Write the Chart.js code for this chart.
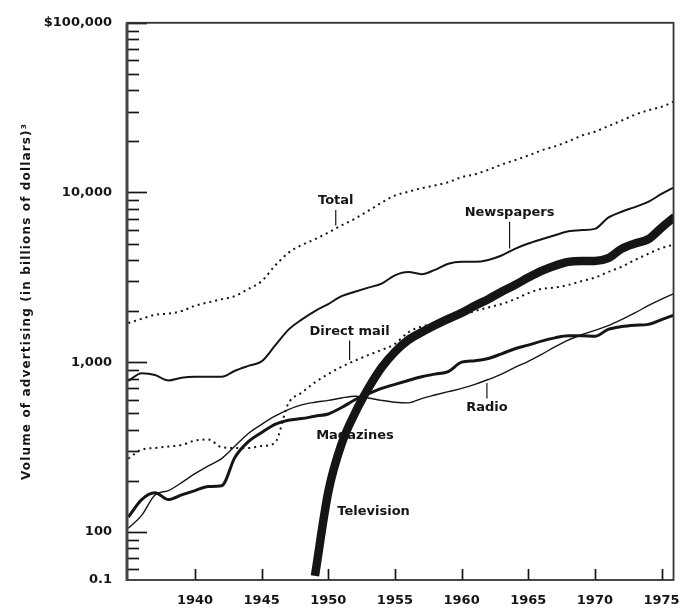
<!DOCTYPE html>
<html>
<head>
<meta charset="utf-8">
<script src="https://cdn.jsdelivr.net/npm/chart.js@4"></script>
<style>
  html, body { margin: 0; padding: 0; background: #fff; }
  #wrap { width: 693px; height: 609px; position: relative; }
</style>
</head>
<body>
<div id="wrap"><canvas id="adChart"></canvas></div>
<script>
// years on the x axis, one value per year (millions of dollars as plotted)
const years = [1935,1936,1937,1938,1939,1940,1941,1942,1943,1944,1945,1946,1947,1948,1949,1950,1951,1952,1953,1954,1955,
               1956,1957,1958,1959,1960,1961,1962,1963,1964,1965,1966,1967,1968,1969,1970,1971,1972,1973,1974,1975,1976]

const total      = [1700,1800,1900,1930,2000,2150,2250,2350,2450,2700,3000,3700,4400,4900,5300,5800,6400,7000,7800,8700,9600,
                    10100,10600,11000,11500,12300,12800,13600,14600,15500,16500,17700,18700,20000,21600,22800,24600,26500,28700,30500,32000,34500]
const newspapers = [775,860,840,780,810,820,820,820,890,950,1010,1250,1550,1780,2000,2200,2450,2600,2750,2900,3250,
                    3400,3300,3500,3800,3900,3900,4000,4250,4650,5000,5300,5600,5900,6000,6100,7100,7700,8200,8800,9800,10800]
const directMail = [270,305,312,318,325,345,350,315,312,312,320,335,570,660,760,850,940,1020,1100,1180,1280,
                    1500,1620,1700,1800,1900,2000,2100,2200,2350,2550,2700,2750,2850,3000,3150,3400,3650,4000,4350,4700,4950]
const television = [null,null,null,null,null,null,null,null,null,null,null,null,null,null,55,172,330,500,700,930,1150,
                    1350,1500,1650,1800,1950,2150,2350,2600,2850,3150,3450,3700,3900,3950,3950,4100,4650,5000,5300,6200,7200]
const magazines  = [122,155,170,155,165,175,185,187,275,340,385,430,455,465,480,495,540,600,650,700,740,
                    780,820,850,880,1000,1020,1050,1120,1200,1260,1330,1390,1430,1430,1420,1560,1620,1650,1670,1780,1900]
const radio      = [105,125,165,175,195,220,245,270,320,380,430,480,525,560,580,595,615,630,615,595,580,
                    575,610,640,670,700,740,790,850,930,1010,1110,1230,1350,1450,1540,1640,1780,1950,2150,2350,2550]

const xTickYears = [1940,1945,1950,1955,1960,1965,1970,1975]
const yMajor = [52,100,1000,10000,100000]
const yMajorLabels = ['0.1','100','1,000','10,000','$100,000']
const yMinor = [60,70,80,90,200,300,400,500,600,700,800,900,2000,3000,4000,5000,6000,7000,8000,9000,
                20000,30000,40000,50000,60000,70000,80000,90000]

// in-chart labels: text, year, value where text sits, series the leader points to
const noteText   = ['Total','Newspapers','Direct mail','Radio','Magazines','Television']
const noteYear   = [1950.56,1963.6,1951.6,1961.9,1952.0,1953.4]
const noteValue  = [8900,7590,1517,540,371,132]
const noteSeries = [0,1,2,5,null,null]

const yTitle = 'Volume of advertising (in billions of dollars)\u00b3'

const ink = '#151515'
const FONT = '"DejaVu Sans", sans-serif'
Chart.defaults.font.family = FONT

const series = [
  { label: 'Total',       data: total,      borderWidth: 2,   borderDash: [2,4] },
  { label: 'Newspapers',  data: newspapers, borderWidth: 2 },
  { label: 'Direct mail', data: directMail, borderWidth: 2,   borderDash: [2,4] },
  { label: 'Television',  data: television, borderWidth: 8.5 },
  { label: 'Magazines',   data: magazines,  borderWidth: 3 },
  { label: 'Radio',       data: radio,      borderWidth: 1.4 },
]

const xy = vals => years.map((yr, i) => ({ x: yr, y: vals[i] }))

// y of a drawn dataset at a fractional year, in pixels
function seriesPixelY(chart, dsIndex, year) {
  const pts = chart.getDatasetMeta(dsIndex).data
  const px = chart.scales.x.getPixelForValue(year)
  for (let i = 0; i < pts.length - 1; i++) {
    const a = pts[i], b = pts[i+1]
    if (a.skip || b.skip) continue
    if (px >= a.x && px <= b.x) return a.y + (b.y - a.y) * (px - a.x) / (b.x - a.x)
  }
  return null
}

const decor = {
  id: 'decor',
  afterDraw(chart) {
    const ctx = chart.ctx, a = chart.chartArea
    const xs = chart.scales.x, ys = chart.scales.y
    ctx.save()
    ctx.strokeStyle = ink
    ctx.lineCap = 'butt'

    // inward y ticks
    ys.ticks.forEach(t => {
      if (t.value === yMajor[0]) return
      const y = Math.round(ys.getPixelForValue(t.value)) + 0.5
      const major = yMajor.includes(t.value)
      ctx.lineWidth = 1.7
      ctx.beginPath(); ctx.moveTo(a.left, y); ctx.lineTo(a.left + (major ? 20 : 12), y); ctx.stroke()
    })
    // inward x ticks
    xTickYears.forEach(v => {
      const x = Math.round(xs.getPixelForValue(v)) + 0.5
      ctx.lineWidth = 1.7
      ctx.beginPath(); ctx.moveTo(x, a.bottom); ctx.lineTo(x, a.bottom - 11); ctx.stroke()
    })

    // frame
    ctx.lineWidth = 1.8
    ctx.strokeStyle = '#333'
    ctx.strokeRect(a.left, a.top, a.right - a.left, a.bottom - a.top)
    ctx.lineWidth = 3
    ctx.strokeStyle = '#444'
    ctx.beginPath(); ctx.moveTo(a.left, a.top); ctx.lineTo(a.left, a.bottom + 1); ctx.stroke()

    // series labels and leaders
    ctx.fillStyle = ink
    ctx.strokeStyle = ink
    ctx.lineWidth = 1.2
    ctx.font = 'bold 13px ' + FONT
    ctx.textAlign = 'center'
    ctx.textBaseline = 'middle'
    noteText.forEach((txt, i) => {
      const x = xs.getPixelForValue(noteYear[i])
      const y = ys.getPixelForValue(noteValue[i])
      ctx.fillText(txt, x, y)
      if (noteSeries[i] === null) return
      const ly = seriesPixelY(chart, noteSeries[i], noteYear[i])
      if (ly === null) return
      ctx.beginPath()
      if (ly > y) { ctx.moveTo(x, y + 9); ctx.lineTo(x, ly - 3) }
      else { ctx.moveTo(x, ly + 3); ctx.lineTo(x, y - 9) }
      ctx.stroke()
    })

    // rotated axis title, spaced out to the reference length
    ctx.font = 'bold 12px ' + FONT
    const w = ctx.measureText(yTitle).width
    const spacing = Math.max(0, (356 - w) / (yTitle.length - 1))
    ctx.letterSpacing = spacing.toFixed(2) + 'px'
    ctx.translate(27, (a.top + a.bottom) / 2)
    ctx.rotate(-Math.PI / 2)
    ctx.fillText(yTitle, 0, 0)
    ctx.restore()
  }
}

new Chart(document.getElementById('adChart'), {
  type: 'line',
  data: {
    datasets: series.map(s => ({
      label: s.label,
      data: xy(s.data),
      borderColor: ink,
      borderWidth: s.borderWidth,
      borderDash: s.borderDash || [],
      pointRadius: 0,
      fill: false,
      cubicInterpolationMode: 'monotone',
      spanGaps: false,
    }))
  },
  options: {
    responsive: true,
    maintainAspectRatio: false,
    animation: false,
    layout: { padding: { top: 16, right: 17, left: 0, bottom: 0 } },
    plugins: { legend: { display: false }, tooltip: { enabled: false } },
    scales: {
      x: {
        type: 'linear', min: 1934.9, max: 1975.9,
        grid: { display: false, drawTicks: false },
        border: { display: false },
        afterBuildTicks: s => { s.ticks = xTickYears.map(v => ({ value: v })) },
        afterFit: s => { s.height = 29 },
        ticks: { color: ink, font: { size: 13, weight: 'bold' }, padding: 13, maxRotation: 0, autoSkip: false, callback: v => String(v) }
      },
      y: {
        type: 'logarithmic', min: yMajor[0], max: 100000,
        grid: { display: false, drawTicks: false },
        border: { display: false },
        afterBuildTicks: s => {
          s.ticks = [...yMajor, ...yMinor].sort((p, q) => p - q).map(v => ({ value: v }))
        },
        afterFit: s => { s.width = 127 },
        ticks: {
          color: ink, font: { size: 13, weight: 'bold' }, padding: 15, autoSkip: false,
          callback: v => { const k = yMajor.indexOf(v); return k >= 0 ? yMajorLabels[k] : '' }
        }
      }
    }
  },
  plugins: [decor]
})
</script>
</body>
</html>
